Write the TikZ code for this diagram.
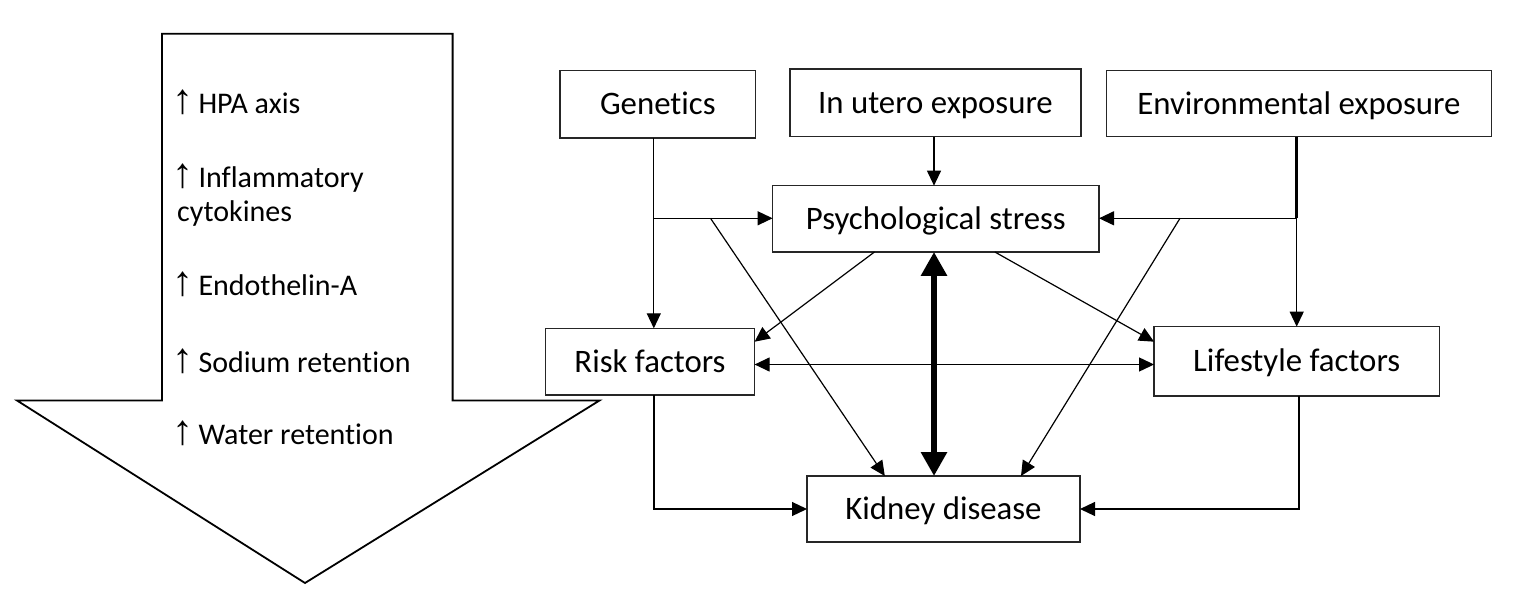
\documentclass[tikz,border=0pt]{standalone}
\usepackage{fontspec}
\setmainfont{Carlito}[Ligatures=NoCommon]
\newfontfamily\arrowfont{Liberation Sans}
\usetikzlibrary{arrows.meta,calc}
\newcommand{\uparr}{\makebox[31pt][c]{\arrowfont\fontsize{42}{42}\selectfont ↑}}
\begin{document}
\begin{tikzpicture}[x=1pt,y=-1pt,
  box/.style={draw=black!85, line width=1.3pt, inner sep=0pt, outer sep=0pt, text height=21pt, text depth=0pt, font=\fontsize{32.8}{39}\selectfont},
  conn/.style={line width=1.2pt, -{Triangle[length=15pt,width=14pt]}},
  bothconn/.style={line width=1.2pt, {Triangle[length=15pt,width=14pt]}-{Triangle[length=15pt,width=14pt]}},
  bigconn/.style={line width=6.5pt, {Triangle[length=24pt,width=25pt]}-{Triangle[length=24pt,width=25pt]}},
  lbl/.style={anchor=base west, inner sep=0pt, font=\fontsize{30}{36}\selectfont}]
\useasboundingbox (0,0) rectangle (1536,609);

% big downward arrow
\draw[line width=1.8pt, line join=miter] (162,33.7) -- (452.6,33.7) -- (452.6,400.5) -- (599.5,400.5) -- (305,583) -- (17,400.5) -- (162,400.5) -- cycle;
\node[lbl] (t1) at (167.3,113.5) {\uparr HPA axis};
\node[lbl] (t2) at (167.3,187.5) {\uparr Inflammatory};
\node[lbl] (t3) at (177,221.5) {cytokines};
\node[lbl] (t4) at (167.3,296) {\uparr Endothelin-A};
\node[lbl] (t5) at (167.3,372.7) {\uparr Sodium retention};
\node[lbl] (t6) at (167.3,444) {\uparr Water retention};

% boxes
\node[box, minimum width=195.7pt, minimum height=67.3pt] (gen) at (657.8,104.3) {Genetics};
\node[box, minimum width=291pt, minimum height=67.7pt] (ute) at (935.5,102.8) {In utero exposure};
\node[box, minimum width=385.4pt, minimum height=66pt] (env) at (1299,103.7) {Environmental exposure};
\node[box, minimum width=326.4pt, minimum height=66.3pt] (psy) at (935.8,218.8) {Psychological stress};
\node[box, minimum width=209.2pt, minimum height=66.7pt] (risk) at (650,361.7) {Risk factors};
\node[box, minimum width=285.3pt, minimum height=69.3pt] (life) at (1296.7,361.3) {Lifestyle factors};
\node[box, minimum width=273pt, minimum height=66pt] (kid) at (943.5,509) {Kidney disease};

% helper coordinates
\coordinate (gx) at (653.8,0);
\coordinate (gj) at (653.8,218.3);
\coordinate (gd) at (710.5,218.3);
\coordinate (k1) at (884.8,0);
\coordinate (k2) at (1021,0);
\coordinate (ux) at (934,0);
\coordinate (tx) at (934,0);
\coordinate (ex) at (1296.7,0);
\coordinate (ej) at (1296.7,218.3);
\coordinate (ed) at (1180,218.3);
\coordinate (p1) at (874.5,0);
\coordinate (p2) at (994.8,0);
\coordinate (ya) at (0,341.7);
\coordinate (yh) at (0,364.5);
\coordinate (rx) at (654,0);
\coordinate (lx) at (1299,0);

% Genetics
\draw[conn] (gx |- gen.south) -- (gx |- risk.north);
\draw[conn] (gj) -- (gj -| psy.west);
\draw[conn] (gd) -- (k1 |- kid.north);
% In utero
\draw[conn] (ux |- ute.south) -- (ux |- psy.north);
% Environmental
\draw[line width=2.6pt] (ex |- env.south) -- (ej);
\draw[conn] (ej) -- (ej -| psy.east);
\draw[conn] (ej) -- (ex |- life.north);
\draw[conn] (ed) -- (k2 |- kid.north);
% Psychological stress
\draw[conn] (p1 |- psy.south) -- (risk.east |- ya);
\draw[conn] (p2 |- psy.south) -- (life.west |- ya);
\draw[bigconn] (tx |- psy.south) -- (tx |- kid.north);
% Risk <-> Lifestyle
\draw[bothconn] (risk.east |- yh) -- (life.west |- yh);
% to Kidney
\draw[conn] (rx |- risk.south) |- (kid.west);
\draw[conn] (lx |- life.south) |- (kid.east);
\end{tikzpicture}
\end{document}
